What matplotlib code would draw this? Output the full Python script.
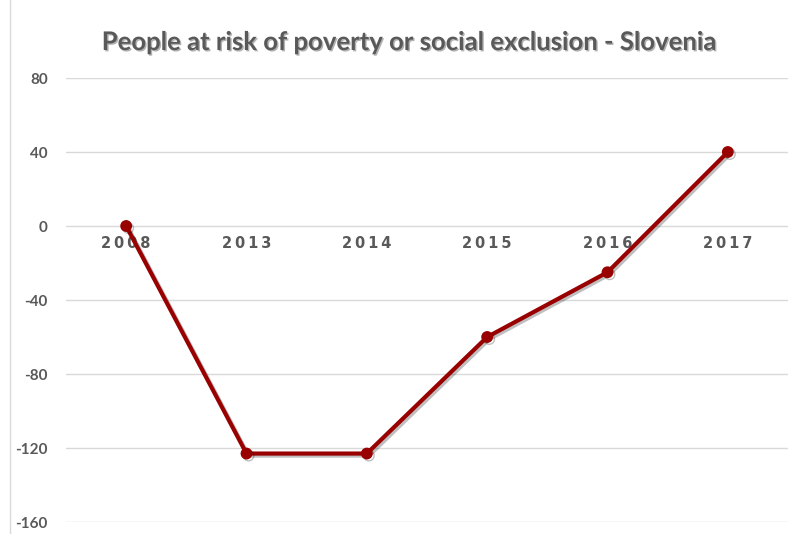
import matplotlib
matplotlib.use("Agg")
import matplotlib.pyplot as plt
import matplotlib.patheffects as pe
from matplotlib.lines import Line2D

plt.rcParams["axes.unicode_minus"] = False

years = ["2008", "2013", "2014", "2015", "2016", "2017"]
values = [0, -123, -123, -60, -25, 40]
yticks = [80, 40, 0, -40, -80, -120, -160]
title = "People at risk of poverty or social exclusion - Slovenia"

W, H = 795, 534
fig = plt.figure(figsize=(W / 100, H / 100), dpi=100)
fig.patch.set_facecolor("white")

left, right = 66 / W, 788 / W
top_px, bot_px = 78, 522
ax = fig.add_axes([left, 1 - bot_px / H, right - left, (bot_px - top_px) / H])
ax.set_xlim(-0.5, len(years) - 0.5)
ax.set_ylim(-160, 80)

for s in ax.spines.values():
    s.set_visible(False)
ax.set_yticks(yticks)
ax.yaxis.grid(True, color="#d9d9d9", linewidth=1)
ax.set_axisbelow(True)
ax.tick_params(axis="y", length=0, pad=13, labelsize=11, labelcolor="#595959")
for lbl in ax.get_yticklabels():
    lbl.set_fontweight("bold")
    lbl.set_fontfamily("Lato")
ax.set_xticks([])

x = list(range(len(years)))
for i, yr in enumerate(years):
    ax.text(i, -5.5, "\u2009".join(yr), ha="center", va="top", fontsize=10.5,
            fontweight="bold", color="#595959", family="DejaVu Sans")

shadow = [pe.SimpleLineShadow(offset=(1.5, -1.5), shadow_color="black", alpha=0.25), pe.Normal()]
ax.plot(x, values, color="#990000", linewidth=3, marker="o", markersize=7.5,
        markerfacecolor="#990000", markeredgecolor="#990000", path_effects=shadow,
        solid_capstyle="round", clip_on=False, zorder=3)

fig.text(410 / W, 1 - 42 / H, title, ha="center", va="center", fontsize=18.5,
         fontweight="bold", color="#595959", family="Lato",
         path_effects=[pe.withSimplePatchShadow(offset=(1, -1), shadow_rgbFace="black", alpha=0.3)])

fig.add_artist(Line2D([10 / W, 10 / W], [0, 1], transform=fig.transFigure,
                      color="#d9d9d9", linewidth=1))

fig.savefig("out.png", dpi=100)
